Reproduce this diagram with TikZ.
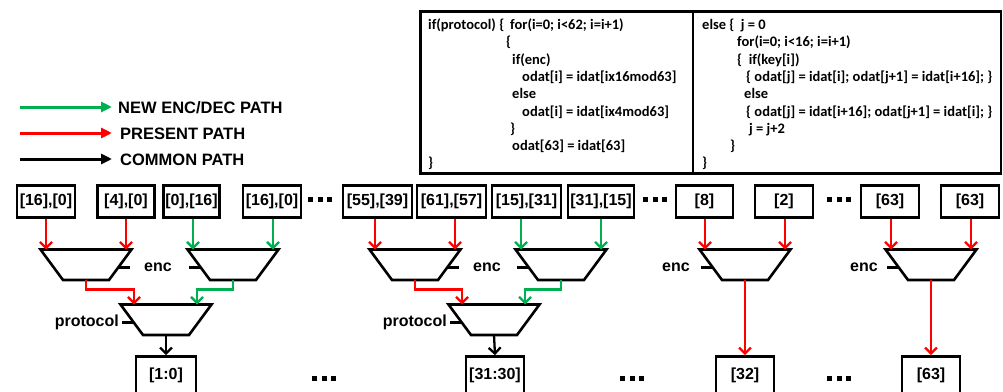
\documentclass[tikz,border=0pt]{standalone}
\usepackage{fontspec}
\setmainfont{Liberation Sans}
\newfontfamily\codefont{Carlito}
\usetikzlibrary{arrows.meta}

\definecolor{pathgreen}{RGB}{0,176,80}
\definecolor{pathred}{RGB}{255,0,0}

\tikzset{
  lbl/.style={inner sep=0pt, font=\fontsize{16}{19}\selectfont\bfseries},
  cell/.style={draw, line width=2.6pt, minimum height=32pt, inner sep=0pt, lbl},
  outcell/.style={draw, line width=2.6pt, minimum height=37pt, inner sep=0pt, lbl},
  codebox/.style={draw, line width=2.6pt, inner sep=0pt},
  code/.style={anchor=base west, inner sep=0pt, font=\codefont\fontsize{14.5}{17}\selectfont\bfseries},
  wire/.style={line width=2.3pt, -{Straight Barb[length=6pt,width=12pt]}},
  newpath/.style={wire, draw=pathgreen},
  oldpath/.style={wire, draw=pathred},
  compath/.style={wire, draw=black},
  keyarrow/.style={line width=3pt, -{Triangle[length=11pt,width=10pt]}},
  keytext/.style={anchor=base west, inner sep=0pt, font=\fontsize{16.5}{19}\selectfont\bfseries},
  muxline/.style={line width=2.6pt},
  stub/.style={line width=2.4pt},
  % 2-to-1 multiplexer, origin at the middle of its wide (input) side
  mux/.pic={
    \draw[muxline] (-45.5,0) -- (45.5,0) -- (23,30.5) -- (-23,30.5) -- cycle;
    \coordinate (-out) at (0,30.5);
    \coordinate (-l) at (-32,18);
    \coordinate (-r) at (32,18);
    \coordinate (-a) at (-40,0);
    \coordinate (-b) at (40,0);
    \coordinate (-il) at (-32,0);
    \coordinate (-ir) at (31,0);
  },
  % ellipsis made of three square dots
  dots/.pic={
    \foreach \k in {0,1,2} \fill (\k*9.5,-2.5) rectangle ++(5,5);
  }
}

\begin{document}
\begin{tikzpicture}[x=1pt,y=-1pt]
\useasboundingbox (0,0) rectangle (1003,391);

% ---------- legend ----------
\coordinate (k1a) at (20,107); \coordinate (k1b) at (112,107);
\coordinate (k2a) at (20,133); \coordinate (k2b) at (112,133);
\coordinate (k3a) at (20,159); \coordinate (k3b) at (112,159);
\draw[keyarrow, draw=pathgreen] (k1a) -- (k1b);
\draw[keyarrow, draw=pathred]   (k2a) -- (k2b);
\draw[keyarrow, draw=black]     (k3a) -- (k3b);
\node[keytext] (k1t) at (118,113) {NEW ENC/DEC PATH};
\node[keytext] (k2t) at (120,139) {PRESENT PATH};
\node[keytext] (k3t) at (120,165) {COMMON PATH};

% ---------- pseudo-code boxes ----------
\node[codebox, minimum width=272.5pt, minimum height=162pt] (cbl) at (556.75,92.5) {};
\node[codebox, minimum width=308pt,   minimum height=162pt] (cbr) at (847,92.5) {};

\node[code] (c1)  at (428,29.5)  {if(protocol) \{};
\node[code] (c1b) at (510,29.5)  {for(i=0; i<62; i=i+1)};
\node[code] (c2)  at (506,46.8)  {\{};
\node[code] (c3)  at (512,64.1)  {if(enc)};
\node[code] (c4)  at (522,81.4)  {odat[i] = idat[ix16mod63]};
\node[code] (c5)  at (512,98.7)  {else};
\node[code] (c6)  at (522,116.0) {odat[i] = idat[ix4mod63]};
\node[code] (c7)  at (510,133.3) {\}};
\node[code] (c8)  at (512,150.6) {odat[63] = idat[63]};
\node[code] (c9)  at (428,167.9) {\}};

\node[code] (d1)  at (702,29.5)  {else \{\ \ j = 0};
\node[code] (d2)  at (737,46.8)  {for(i=0; i<16; i=i+1)};
\node[code] (d3)  at (737,64.1)  {\{\ \ if(key[i])};
\node[code] (d4)  at (746,81.4)  {\{ odat[j] = idat[i]; odat[j+1] = idat[i+16]; \}};
\node[code] (d5)  at (744,98.7)  {else};
\node[code] (d6)  at (746,116.0) {\{ odat[j] = idat[i+16]; odat[j+1] = idat[i]; \}};
\node[code] (d7)  at (749,133.3) {j = j+2};
\node[code] (d8)  at (730,150.6) {\}};
\node[code] (d9)  at (702,167.9) {\}};

% ---------- input cells ----------
\node[cell, minimum width=58pt] (b1)  at (46,201.5)    {[16],[0]};
\node[cell, minimum width=57pt] (b2)  at (126,201.5)   {[4],[0]};
\node[cell, minimum width=56pt] (b3)  at (191.5,201.5) {[0],[16]};
\node[cell, minimum width=58pt] (b4)  at (272,201.5)   {[16],[0]};
\node[cell, minimum width=69pt] (b5)  at (377.5,201.5) {[55],[39]};
\node[cell, minimum width=69pt] (b6)  at (451.5,201.5) {[61],[57]};
\node[cell, minimum width=69pt] (b7)  at (526.5,201.5) {[15],[31]};
\node[cell, minimum width=66pt] (b8)  at (601,201.5)   {[31],[15]};
\node[cell, minimum width=57pt] (b9)  at (704.5,201.5) {[8]};
\node[cell, minimum width=58pt] (b10) at (784,201.5)   {[2]};
\node[cell, minimum width=58pt] (b11) at (890,201.5)   {[63]};
\node[cell, minimum width=58pt] (b12) at (970,201.5)   {[63]};

\pic at (308,199.5) {dots};
\pic at (643,199.5) {dots};
\pic at (827,199.5) {dots};

% ---------- multiplexers ----------
\pic (m1) at (86,249.5)  {mux};
\pic (m2) at (233,249.5) {mux};
\pic (m3) at (166,304.5) {mux};
\pic (m4) at (415,249.5) {mux};
\pic (m5) at (561,249.5) {mux};
\pic (m6) at (494,304.5) {mux};
\pic (m7) at (745,249.5) {mux};
\pic (m8) at (931,249.5) {mux};

% select lines
\draw[stub] (m1-r) -- ++(12,0);
\draw[stub] (m2-l) -- ++(-12,0);
\draw[stub] (m3-l) -- ++(-12,0);
\draw[stub] (m4-r) -- ++(12,0);
\draw[stub] (m5-l) -- ++(-12,0);
\draw[stub] (m6-l) -- ++(-12,0);
\draw[stub] (m7-l) -- ++(-12,0);
\draw[stub] (m8-l) -- ++(-12,0);

\node[lbl] (e1) at (158,267) {enc};
\node[lbl] (e2) at (487,267) {enc};
\node[lbl] (e3) at (676,267) {enc};
\node[lbl] (e4) at (864,267) {enc};
\node[lbl, anchor=east] (p1) at ([xshift=-15pt]m3-l) {protocol};
\node[lbl, anchor=east] (p2) at ([xshift=-15pt]m6-l) {protocol};

% ---------- output cells ----------
\node[outcell, minimum width=60pt] (o1) at (166,375) {[1:0]};
\node[outcell, minimum width=58pt] (o2) at (495,375) {[31:30]};
\node[outcell, minimum width=58pt] (o3) at (745,375) {[32]};
\node[outcell, minimum width=58pt] (o4) at (931,375) {[63]};

\pic at (312,378) {dots};
\pic at (620,378) {dots};
\pic at (827,378) {dots};

% ---------- data paths ----------
\draw[oldpath] (b1.south -| m1-a) -- (m1-a);
\draw[oldpath] (b2.south -| m1-b) -- (m1-b);
\draw[newpath] (b3.south -| m2-a) -- (m2-a);
\draw[newpath] (b4.south -| m2-b) -- (m2-b);
\draw[oldpath] (b5.south -| m4-a) -- (m4-a);
\draw[oldpath] (b6.south -| m4-b) -- (m4-b);
\draw[newpath] (b7.south -| m5-a) -- (m5-a);
\draw[newpath] (b8.south -| m5-b) -- (m5-b);
\draw[oldpath] (b9.south -| m7-a) -- (m7-a);
\draw[oldpath] (b10.south -| m7-b) -- (m7-b);
\draw[oldpath] (b11.south -| m8-a) -- (m8-a);
\draw[oldpath] (b12.south -| m8-b) -- (m8-b);

\draw[oldpath] (m1-out) -- ++(0,9.5) -| (m3-il);
\draw[newpath] (m2-out) -- ++(0,9.5) -| (m3-ir);
\draw[oldpath] (m4-out) -- ++(0,9.5) -| (m6-il);
\draw[newpath] (m5-out) -- ++(0,9.5) -| (m6-ir);

\draw[compath] (m3-out) -- (o1.north);
\draw[compath] (m6-out) -- (o2.north);
\draw[oldpath] (m7-out) -- (o3.north);
\draw[oldpath] (m8-out) -- (o4.north);
\end{tikzpicture}
\end{document}
